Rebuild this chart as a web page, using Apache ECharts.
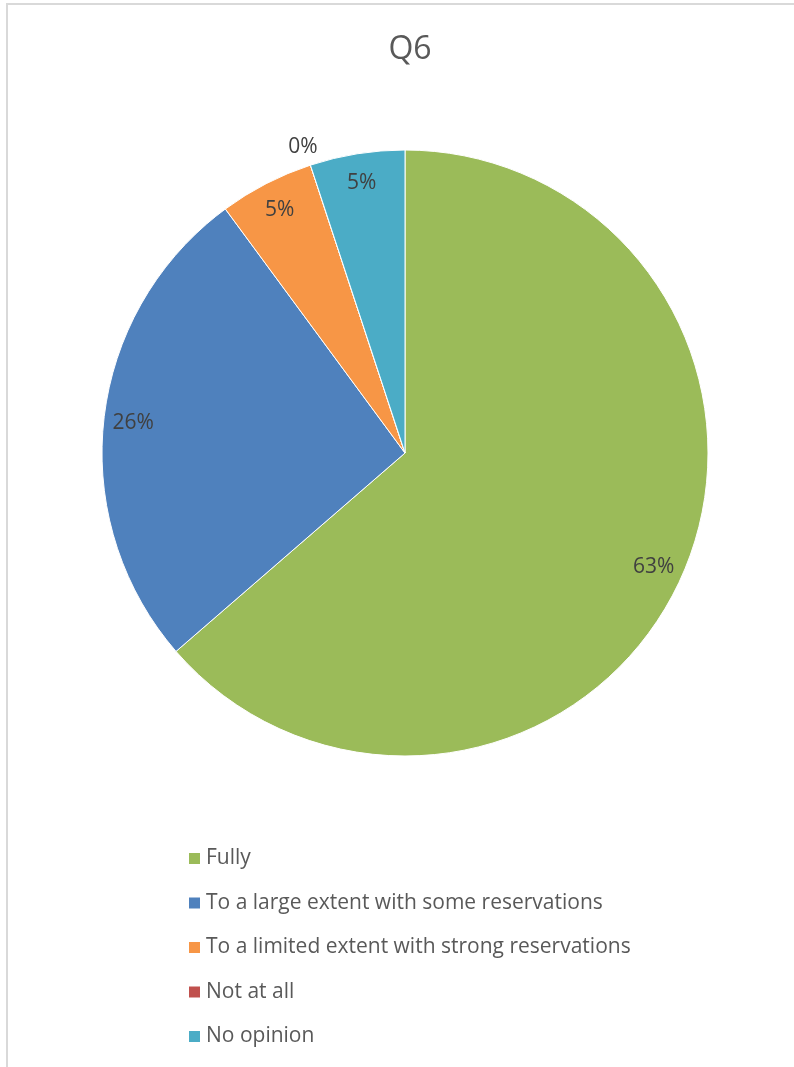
<!DOCTYPE html>
<html>
<head>
<meta charset="utf-8">
<script src="https://cdn.jsdelivr.net/npm/echarts@6/dist/echarts.min.js"></script>
<style>
  html, body { margin: 0; padding: 0; background: #fff; }
  #chart { width: 794px; height: 1067px; }
</style>
</head>
<body>
<div id="chart"></div>
<script>
// Survey answers for Q6 (share of respondents, %)
const categories = [
  'Fully',
  'To a large extent with some reservations',
  'To a limited extent with strong reservations',
  'Not at all',
  'No opinion'
];
const shares = [63, 26, 5, 0, 5];
const colors = ['#9BBB59', '#4F81BD', '#F79646', '#C0504D', '#4BACC6'];

const FONT = 'Open Sans';
const center = [405, 453];
const outerR = 303;

const sliceData = categories.map((name, i) => ({ name, value: shares[i] }));

// Label ring: an invisible ring over the outer part of the pie so the
// percentage labels sit close to the rim; empty slices get their label outside.
const labelData = categories.map((name, i) => {
  const item = { name, value: shares[i] };
  if (shares[i] === 0) {
    item.label = { position: 'outside', distanceToLabelLine: -13 };
    item.labelLine = { show: false, length: 19, length2: 0 };
  }
  return item;
});

const chart = echarts.init(document.getElementById('chart'), null, { renderer: 'canvas' });
chart.setOption({
  backgroundColor: '#fff',
  animation: false,
  color: colors,
  title: {
    text: 'Q6',
    left: 405,
    textAlign: 'center',
    top: 29,
    textStyle: { fontFamily: FONT, fontSize: 32, fontWeight: 'normal', color: '#595959' }
  },
  legend: {
    data: categories,
    orient: 'vertical',
    left: 187,
    top: 848,
    height: 300,
    padding: 0,
    icon: 'rect',
    itemWidth: 13,
    itemHeight: 13,
    itemGap: 23.5,
    textStyle: { fontFamily: FONT, fontSize: 21, color: '#595959' }
  },
  graphic: [{
    type: 'rect',
    silent: true,
    shape: { x: 7, y: 4, width: 820, height: 1100 },
    style: { fill: 'none', stroke: '#d9d9d9', lineWidth: 2 }
  }],
  series: [
    {
      type: 'pie',
      center: center,
      radius: [0, outerR],
      startAngle: 90,
      clockwise: true,
      silent: true,
      label: { show: false },
      labelLine: { show: false },
      itemStyle: { borderColor: '#fff', borderWidth: 1 },
      data: sliceData
    },
    {
      type: 'pie',
      center: center,
      radius: [238, outerR],
      startAngle: 90,
      clockwise: true,
      silent: true,
      itemStyle: { color: 'rgba(0,0,0,0)', borderWidth: 0 },
      label: {
        show: true,
        position: 'inside',
        formatter: '{c}%',
        fontFamily: FONT,
        fontSize: 21,
        color: '#404040'
      },
      labelLine: { show: false },
      data: labelData
    }
  ]
});
</script>
</body>
</html>
